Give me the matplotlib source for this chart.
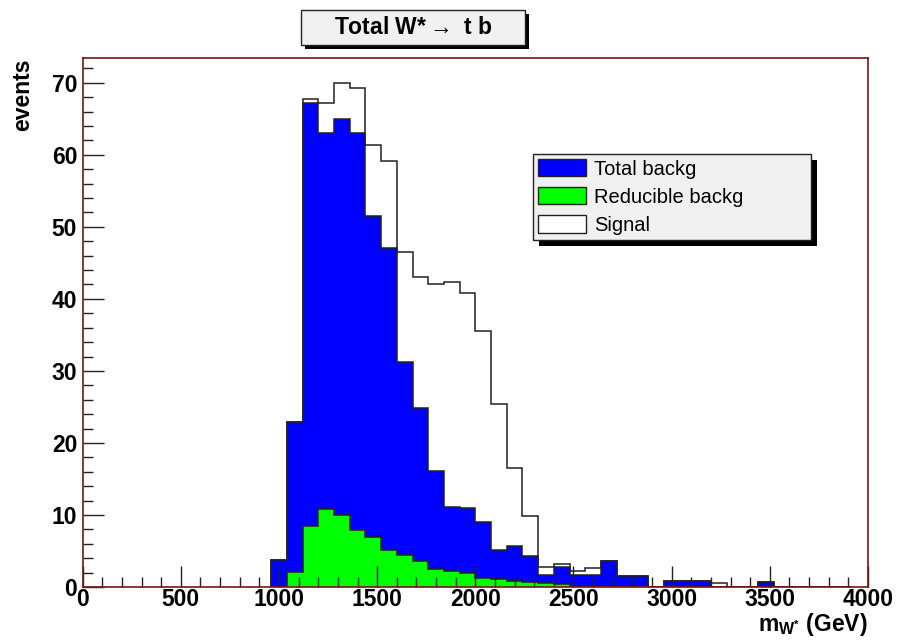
"""
Total W* -> t b : invariant mass, background stack vs signal
"""
import numpy as np
import matplotlib.pyplot as plt
from matplotlib.patches import Patch, Rectangle
from matplotlib.ticker import MultipleLocator

plt.rcParams['font.family'] = ['Liberation Sans', 'DejaVu Sans']
plt.rcParams['mathtext.fontset'] = 'custom'
plt.rcParams['mathtext.rm'] = 'Liberation Sans'
plt.rcParams['mathtext.bf'] = 'Liberation Sans:bold'

## Histogram binning (GeV)
bin_lo = 960
bin_width = 80
edges = bin_lo + bin_width * np.arange(38)

# events per bin
total_backg = [3.7, 22.9, 67.2, 63.0, 65.0, 63.0, 51.5, 47.1, 31.3, 24.9,
               16.1, 11.1, 10.9, 9.0, 5.2, 5.7, 4.3, 1.6, 2.8, 1.7,
               1.7, 3.6, 1.5, 1.5, 0, 0.8, 0.8, 0.8, 0, 0,
               0, 0.7, 0, 0, 0, 0, 0]
reducible_backg = [0, 2.1, 8.4, 10.8, 10.0, 7.9, 7.0, 5.1, 4.4, 3.6,
                   2.5, 2.2, 1.9, 1.3, 1.1, 0.8, 0.7, 0.5, 0.4, 0.15,
                   0.15, 0.1, 0.1, 0.15, 0, 0, 0, 0, 0, 0,
                   0, 0, 0, 0, 0, 0, 0]
signal = [0, 0, 0.5, 4.2, 5.0, 6.3, 9.8, 12.1, 15.2, 18.2,
          25.9, 31.2, 29.9, 26.5, 20.2, 10.8, 5.6, 1.2, 0.4, 0.5,
          0.9, 0, 0, 0, 0, 0, 0, 0, 0.5, 0,
          0, 0, 0, 0, 0, 0, 0]

frame_col = "#7a1414"
line_col = "#222222"

fig = plt.figure(figsize=(9, 6.43), dpi=100)
ax = fig.add_axes([0.0919, 0.0871, 0.8725, 0.8222])

stacked = np.array(total_backg) + np.array(signal)
ax.stairs(stacked, edges, fill=True, facecolor="white", edgecolor=line_col, linewidth=1.1)
ax.stairs(total_backg, edges, fill=True, facecolor="#0000ff", edgecolor=line_col, linewidth=1.1)
ax.stairs(reducible_backg, edges, fill=True, facecolor="#00ff00", edgecolor=line_col, linewidth=1.1)

ax.set_xlim(0, 4000)
ax.set_ylim(0, 73.4)

ax.xaxis.set_major_locator(MultipleLocator(500))
ax.xaxis.set_minor_locator(MultipleLocator(100))
ax.yaxis.set_major_locator(MultipleLocator(10))
ax.yaxis.set_minor_locator(MultipleLocator(2))
ax.tick_params(which="both", direction="in", color=line_col, width=1,
               top=False, right=False)
ax.tick_params(which="major", length=15, labelsize=16.5)
ax.tick_params(axis="x", which="major", pad=1)
ax.tick_params(axis="y", which="major", pad=4)
ax.tick_params(which="minor", length=7)
for lab in ax.get_xticklabels() + ax.get_yticklabels():
    lab.set_fontweight("bold")

for side in ["top", "right", "left", "bottom"]:
    ax.spines[side].set_color(frame_col)
    ax.spines[side].set_linewidth(1.2)

ax.set_ylabel("events", loc="top", fontsize=16.5, fontweight="bold")
ax.yaxis.set_label_coords(-0.062, 1.0)
ax.set_xlabel(r"$\mathbf{m_{W^{*}}}$ (GeV)", loc="right", fontsize=16.5, fontweight="bold")
ax.xaxis.set_label_coords(1.0, -0.046)

handles = [Patch(facecolor="#0000ff", edgecolor=line_col, label="Total backg"),
           Patch(facecolor="#00ff00", edgecolor=line_col, label="Reducible backg"),
           Patch(facecolor="white", edgecolor=line_col, label="Signal")]
leg = ax.legend(handles=handles, loc="upper left", mode="expand",
                bbox_to_anchor=(532.7 / 900, 1 - 237.7 / 643, 278 / 900, 83.7 / 643),
                bbox_transform=fig.transFigure, borderaxespad=0,
                fontsize=14.5, frameon=True, fancybox=False, framealpha=1,
                facecolor="#f0f0f0", edgecolor=line_col,
                handlelength=2.4, handleheight=0.95, handletextpad=0.4,
                labelspacing=0.42, borderpad=0.25)
leg.get_frame().set_linewidth(1.0)

# title box
tx0, ty0, tw, th = 301 / 900, 1 - 45 / 643, 224 / 900, 35 / 643
fig.patches.append(Rectangle((tx0 + 4 / 900, ty0 - 4 / 643), tw, th, transform=fig.transFigure,
                             facecolor="black", edgecolor="none"))
fig.patches.append(Rectangle((tx0, ty0), tw, th, transform=fig.transFigure,
                             facecolor="#f0f0f0", edgecolor=line_col, linewidth=1.0))
fig.text(tx0 + tw / 2, ty0 + th / 2, r"Total W*$\rightarrow$ t b", ha="center", va="center",
         fontsize=16.5, fontweight="bold")

# legend shadow
fig.canvas.draw()
bb = leg.get_frame().get_window_extent()
ax.add_patch(Rectangle((bb.x0 + 6, bb.y0 - 6), bb.width, bb.height, transform=None,
                       facecolor="black", edgecolor="none", zorder=4.9, clip_on=False))

fig.savefig("out.png", dpi=100)
